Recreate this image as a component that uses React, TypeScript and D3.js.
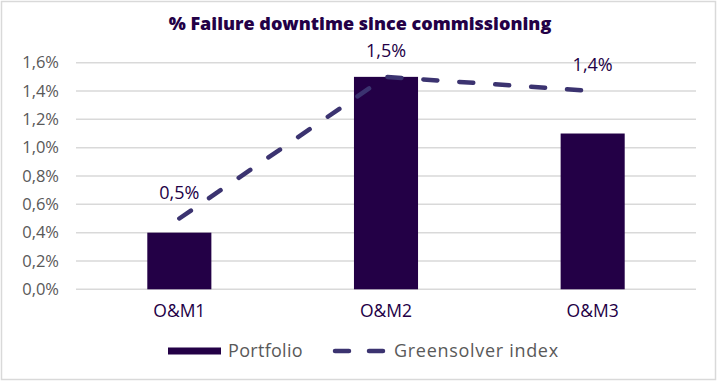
import React from "react";
import * as d3 from "d3";

const categories = ["O&M1", "O&M2", "O&M3"];
const portfolio = [0.4, 1.5, 1.1];
const greensolver = [0.5, 1.5, 1.4];
const yTicks = [0, 0.2, 0.4, 0.6, 0.8, 1.0, 1.2, 1.4, 1.6];
const title = "% Failure downtime since commissioning";
const seriesNames = ["Portfolio", "Greensolver index"];

const W = 720;
const H = 382;
const BAR = "#230046";
const LINE = "#3b3370";
const GRID = "#d9d9d9";
const TEXT = "#595959";
const FONT = "'Open Sans', 'Noto Sans', sans-serif";

const fmt = (v: number) => v.toFixed(1).replace(".", ",") + "%";

export default function App() {
  const x = d3.scaleBand<string>().domain(categories).range([76, 696]).padding(0);
  const y = d3.scaleLinear().domain([0, 1.6]).range([289.3, 62.7]);
  const bw = x.bandwidth() * 0.31;
  const cx = (c: string) => (x(c) as number) + x.bandwidth() / 2;
  const line = d3
    .line<number>()
    .x((_, i) => cx(categories[i]))
    .y((d) => y(d));

  return (
    <div style={{ position: "fixed", left: 0, top: 0 }}>
      <svg width={W} height={H} style={{ display: "block", fontFamily: FONT }}>
        <rect x={0} y={0} width={W} height={H} fill="#fff" />
        <rect x={1.5} y={1.5} width={714} height={378} fill="none" stroke={GRID} strokeWidth={1.5} />
        <text x={360} y={30} textAnchor="middle" fontSize={18} fontWeight={800} fill={BAR}>
          {title}
        </text>
        {yTicks.map((t) => (
          <g key={t}>
            <line x1={76} x2={696} y1={y(t)} y2={y(t)} stroke={GRID} strokeWidth={1.5} />
            <text x={59} y={y(t)} dy="0.35em" textAnchor="end" fontSize={16.5} fill={TEXT}>
              {fmt(t)}
            </text>
          </g>
        ))}
        {categories.map((c, i) => (
          <rect
            key={c}
            x={cx(c) - bw / 2}
            y={y(portfolio[i])}
            width={bw}
            height={y(0) - y(portfolio[i])}
            fill={BAR}
          />
        ))}
        {categories.map((c) => (
          <text key={c} x={cx(c)} y={311} dy="0.35em" textAnchor="middle" fontSize={17.5} fill={BAR}>
            {c}
          </text>
        ))}
        <path
          d={line(greensolver) || ""}
          fill="none"
          stroke={LINE}
          strokeWidth={4.5}
          strokeLinecap="round"
          strokeDasharray="14 22"
        />
        {categories.map((c, i) => (
          <text
            key={c}
            x={cx(c)}
            y={y(greensolver[i]) - 26}
            dy="0.35em"
            textAnchor="middle"
            fontSize={18}
            fill={BAR}
          >
            {fmt(greensolver[i])}
          </text>
        ))}
        <g>
          <rect x={168} y={347.5} width={53} height={7} fill={BAR} />
          <text x={228} y={351} dy="0.35em" fontSize={18} letterSpacing={0.3} fill={TEXT}>
            {seriesNames[0]}
          </text>
          <line
            x1={335}
            x2={387}
            y1={351}
            y2={351}
            stroke={LINE}
            strokeWidth={4.5}
            strokeLinecap="round"
            strokeDasharray="14 20"
          />
          <text x={394} y={351} dy="0.35em" fontSize={18} letterSpacing={0.7} fill={TEXT}>
            {seriesNames[1]}
          </text>
        </g>
      </svg>
    </div>
  );
}
